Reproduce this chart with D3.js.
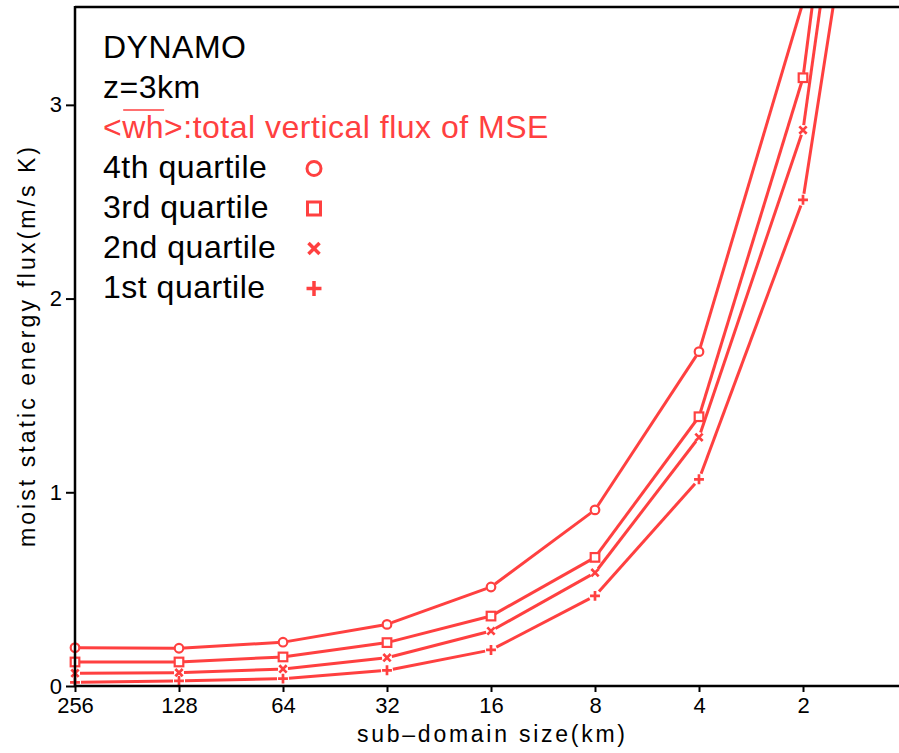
<!DOCTYPE html>
<html>
<head>
<meta charset="utf-8">
<script src="https://cdn.jsdelivr.net/npm/d3@7"></script>
<style>
  html, body { margin: 0; padding: 0; background: #fff; overflow: hidden; }
  svg { display: block; }
  text { font-family: "Liberation Sans", Arial, sans-serif; }
</style>
</head>
<body>
<svg id="chart" width="899" height="753"></svg>
<script>
// ---- data ----
const sizes = [256, 128, 64, 32, 16, 8, 4, 2, 1];
const q4 = [0.198, 0.195, 0.226, 0.318, 0.511, 0.909, 1.726, 3.53, 8.6];
const q3 = [0.124, 0.124, 0.150, 0.224, 0.361, 0.664, 1.390, 3.14, 7.3];
const q2 = [0.066, 0.069, 0.088, 0.146, 0.284, 0.585, 1.284, 2.87, 6.7];
const q1 = [0.019, 0.026, 0.038, 0.081, 0.186, 0.465, 1.067, 2.51, 5.95];
const seriesNames = ["4th quartile", "3rd quartile", "2nd quartile", "1st quartile"];
const seriesMarkers = ["circle", "square", "cross", "plus"];
const xTicks = [256, 128, 64, 32, 16, 8, 4, 2];
const yTicks = [0, 1, 2, 3];
const titleLines = ["DYNAMO", "z=3km"];
const fluxLabel = "<wh>:total vertical flux of MSE";
const xTitle = "sub\u2013domain size(km)";
const yTitle = "moist static energy flux(m/s K)";

const RED = "#ff4040";
const svg = d3.select("#chart");

const pLeft = 75, pRight = 907, pTop = 8, pBottom = 686;
const x = d3.scaleLog().base(2).domain([256, 1]).range([pLeft, pRight]);
const y = d3.scaleLinear().domain([0, 3.5]).range([pBottom, pTop]);

svg.append("defs").append("clipPath").attr("id", "plotclip")
  .append("rect").attr("x", pLeft - 15).attr("y", pTop).attr("width", pRight - pLeft + 15).attr("height", pBottom - pTop + 15);

const series = [q4, q3, q2, q1].map((vals, i) => ({
  name: seriesNames[i], marker: seriesMarkers[i],
  pts: sizes.map((s, j) => ({ px: x(s), py: y(vals[j]) }))
}));

const plot = svg.append("g").attr("clip-path", "url(#plotclip)");
const line = d3.line().x(d => d[0]).y(d => d[1]);

series.forEach(s => {
  const gap = s.marker === "plus" ? 6 : 5;
  for (let i = 0; i < s.pts.length - 1; i++) {
    const a = s.pts[i], b = s.pts[i + 1];
    const dx = b.px - a.px, dy = b.py - a.py, L = Math.hypot(dx, dy);
    const ux = dx / L, uy = dy / L;
    plot.append("path")
      .attr("d", line([[a.px + ux * gap, a.py + uy * gap], [b.px - ux * gap, b.py - uy * gap]]))
      .attr("fill", "none").attr("stroke", RED).attr("stroke-width", 3);
  }
});

function drawMarker(g, type, cx, cy, size, sw) {
  if (type === "circle") {
    g.append("circle").attr("cx", cx).attr("cy", cy).attr("r", size)
      .attr("fill", "none").attr("stroke", RED).attr("stroke-width", sw);
  } else if (type === "square") {
    g.append("rect").attr("x", cx - size).attr("y", cy - size)
      .attr("width", 2 * size).attr("height", 2 * size)
      .attr("fill", "none").attr("stroke", RED).attr("stroke-width", sw);
  } else if (type === "cross") {
    const h = size * 0.85;
    g.append("path").attr("d", `M${cx - h},${cy - h}L${cx + h},${cy + h}M${cx - h},${cy + h}L${cx + h},${cy - h}`)
      .attr("stroke", RED).attr("stroke-width", sw + 0.5).attr("fill", "none");
  } else {
    const h = size * 1.15;
    g.append("path").attr("d", `M${cx - h},${cy}L${cx + h},${cy}M${cx},${cy - h}L${cx},${cy + h}`)
      .attr("stroke", RED).attr("stroke-width", sw + 0.5).attr("fill", "none");
  }
}

series.forEach(s => {
  s.pts.forEach(p => drawMarker(plot, s.marker, p.px, p.py, 4.3, 2.2));
});

// ---- frame / axes ----
const frame = svg.append("g");
frame.append("line").attr("x1", pLeft).attr("x2", pRight).attr("y1", pBottom).attr("y2", pBottom)
  .attr("stroke", "#000").attr("stroke-width", 2.5);
frame.append("line").attr("x1", pLeft).attr("x2", pRight).attr("y1", pTop - 1).attr("y2", pTop - 1)
  .attr("stroke", "#000").attr("stroke-width", 2.5);
frame.append("line").attr("x1", pLeft).attr("x2", pLeft).attr("y1", pTop - 2).attr("y2", pBottom + 1)
  .attr("stroke", "#000").attr("stroke-width", 2.5);

const xAxis = d3.axisBottom(x).tickValues(xTicks).tickFormat(d3.format("d")).tickSize(6).tickPadding(5);
const gx = svg.append("g").attr("transform", `translate(0,${pBottom})`).call(xAxis);
gx.select(".domain").remove();
gx.selectAll(".tick line").attr("stroke", "#000").attr("stroke-width", 2);
gx.selectAll(".tick text").attr("font-size", 22).attr("fill", "#000")
  .attr("font-family", "'Liberation Sans', Arial, sans-serif");

const yAxis = d3.axisLeft(y).tickValues(yTicks).tickFormat(d3.format("d")).tickSize(9).tickPadding(4);
const gy = svg.append("g").attr("transform", `translate(${pLeft},0)`).call(yAxis);
gy.select(".domain").remove();
gy.selectAll(".tick line").attr("stroke", "#000").attr("stroke-width", 2);
gy.selectAll(".tick text").attr("font-size", 22).attr("fill", "#000")
  .attr("font-family", "'Liberation Sans', Arial, sans-serif");

// axis titles
svg.append("text").attr("x", 491).attr("y", 742).attr("text-anchor", "middle")
  .attr("font-size", 23).attr("fill", "#000")
  .attr("textLength", 268).attr("lengthAdjust", "spacing").text(xTitle);
svg.append("text").attr("transform", "translate(35,347) rotate(-90)").attr("text-anchor", "middle")
  .attr("font-size", 23).attr("fill", "#000")
  .attr("textLength", 400).attr("lengthAdjust", "spacing").text(yTitle);

// ---- legend ----
const lg = svg.append("g");
const lx = 103, ly0 = 58, ldy = 40;
const lfs = 32;
titleLines.forEach((t, i) => {
  lg.append("text").attr("x", lx).attr("y", ly0 + i * ldy).attr("font-size", lfs)
    .attr("letter-spacing", 0.5).attr("fill", "#000").text(t);
});
const ft = lg.append("text").attr("x", lx).attr("y", ly0 + 2 * ldy).attr("font-size", lfs)
  .attr("letter-spacing", 0.5).attr("fill", RED).text(fluxLabel);
const ftn = ft.node();
const ox1 = ftn.getStartPositionOfChar(1).x, ox2 = ftn.getEndPositionOfChar(2).x;
lg.append("line").attr("x1", ox1 + 1).attr("x2", ox2).attr("y1", ly0 + 2 * ldy - 28).attr("y2", ly0 + 2 * ldy - 28)
  .attr("stroke", RED).attr("stroke-width", 1.6);

seriesNames.forEach((name, i) => {
  const by = ly0 + (3 + i) * ldy;
  lg.append("text").attr("x", lx).attr("y", by).attr("font-size", lfs)
    .attr("letter-spacing", 0.5).attr("fill", "#000").text(name);
  drawMarker(lg, seriesMarkers[i], 314, by - 9.5, seriesMarkers[i] === "circle" ? 7 : 6.5, 3);
});
</script>
</body>
</html>
